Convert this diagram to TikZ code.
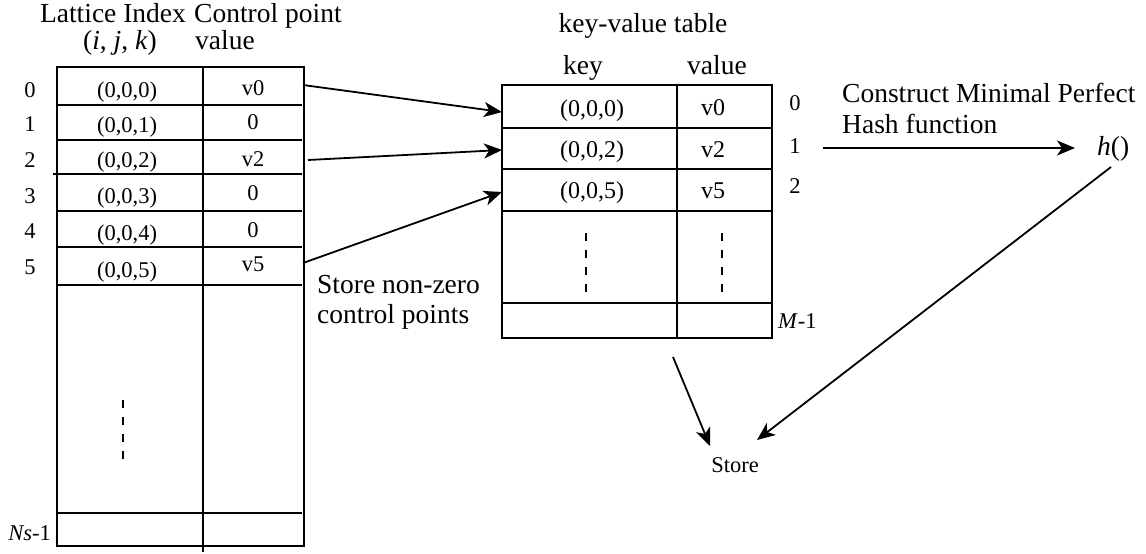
\documentclass[tikz,border=0pt]{standalone}
\usepackage{fontspec}
\setmainfont{Liberation Serif}
\usetikzlibrary{arrows.meta}
\begin{document}
\begin{tikzpicture}[x=1pt,y=-1pt,
  big/.style={font=\fontsize{27.5}{31}\selectfont, inner sep=0pt, anchor=base},
  cell/.style={font=\fontsize{22.5}{26}\selectfont, inner sep=0pt, anchor=base},
  kcell/.style={font=\fontsize{24}{27}\selectfont, inner sep=0pt, anchor=base},
  grid/.style={line width=1.8pt},
  dots/.style={line width=1.6pt, dash pattern=on 8pt off 9pt},
  link/.style={line width=1.8pt, -{Stealth[length=18pt,width=15pt,inset=5pt]}}]
\useasboundingbox (0,0) rectangle (1146,554);

% ---------- lattice table ----------
\draw[grid] (57,67) rectangle (304,546);
\draw[grid] (203,67) -- (203,552);
\foreach \y in {105,140,211,247,285,513} \draw[grid] (57,\y) -- (302,\y);
\draw[grid] (53,174) -- (302,174);
\draw[dots] (123,400) -- (123,463);

\node[big] (hlat) at (113,23) {Lattice Index};
\node[big] (hijk) at (120,49) {(\textit{i}, \textit{j}, \textit{k})};
\node[big, anchor=base west] (hcp) at (194,22) {Control point};
\node[big, anchor=base west] (hval) at (195,49) {value};

\foreach \i/\b in {0/97,1/131,2/167,3/203,4/238,5/274}
  \node[cell] (r\i) at (30,\b) {\i};
\node[cell, anchor=base east] (rN) at (51,540) {\textit{Ns}-1};

\node[cell] (l0) at (127,97) {(0,0,0)};
\node[cell] (l1) at (127,132) {(0,0,1)};
\node[cell] (l2) at (127,167) {(0,0,2)};
\node[cell] (l3) at (127,203) {(0,0,3)};
\node[cell] (l4) at (127,240) {(0,0,4)};
\node[cell] (l5) at (127,277) {(0,0,5)};

\node[cell] (c0) at (253,95) {v0};
\node[cell] (c1) at (253,129) {0};
\node[cell] (c2) at (253,166) {v2};
\node[cell] (c3) at (253,200) {0};
\node[cell] (c4) at (253,237) {0};
\node[cell] (c5) at (253,271) {v5};

% ---------- key-value table ----------
\draw[grid] (502,85) rectangle (772,338);
\draw[grid] (677,85) -- (677,338);
\foreach \y in {128,169,211,303} \draw[grid] (502,\y) -- (772,\y);
\draw[dots] (586,233) -- (586,297);
\draw[dots] (722,233) -- (722,297);

\node[big] (hkv) at (643,32) {key-value table};
\node[big] (hkey) at (583,74) {key};
\node[big] (hv) at (717,74) {value};

\node[kcell] (k0) at (592,116) {(0,0,0)};
\node[kcell] (k1) at (592,157) {(0,0,2)};
\node[kcell] (k2) at (592,198) {(0,0,5)};
\node[kcell] (v0) at (713,115) {v0};
\node[kcell] (v1) at (713,157) {v2};
\node[kcell] (v2) at (713,198) {v5};

\node[cell] (m0) at (795,110) {0};
\node[cell] (m1) at (795,153) {1};
\node[cell] (m2) at (795,193) {2};
\node[cell, anchor=base west] (mM) at (778,328) {\textit{M}-1};

% ---------- labels ----------
\node[big, anchor=base west] (st1) at (317,293) {Store non-zero};
\node[big, anchor=base west] (st2) at (317,323) {control points};
\node[big, anchor=base west] (mp1) at (842,102) {Construct Minimal Perfect};
\node[big, anchor=base west] (mp2) at (842,133) {Hash function};
\node[big, anchor=base west] (h) at (1097,155) {\textit{h}()};
\node[cell] (store) at (735,472) {Store};

% ---------- connector ports ----------
\coordinate (p0) at (303,85);
\coordinate (p2) at (308,160);
\coordinate (p5) at (303,263);
\coordinate (q0) at (502,112);
\coordinate (q1) at (502,150);
\coordinate (q2) at (502,192);
\coordinate (mpfrom) at (823,148);
\coordinate (mpto) at (1075,148);
\coordinate (hout) at (1111,167);
\coordinate (sin1) at (757,440);
\coordinate (kvout) at (673,357);
\coordinate (sin2) at (710,446);

\draw[link] (p0) -- (q0);
\draw[link] (p2) -- (q1);
\draw[link] (p5) -- (q2);
\draw[link] (mpfrom) -- (mpto);
\draw[link] (hout) -- (sin1);
\draw[link] (kvout) -- (sin2);
\end{tikzpicture}
\end{document}
